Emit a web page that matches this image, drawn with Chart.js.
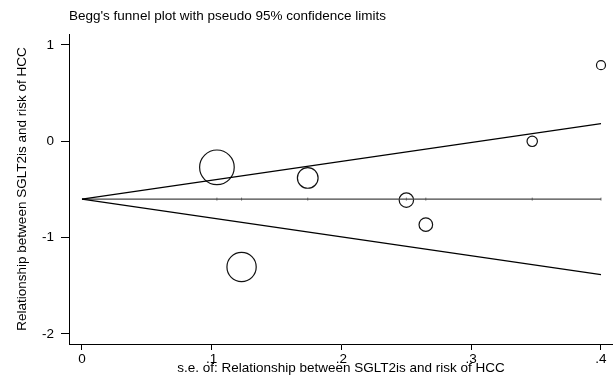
<!DOCTYPE html>
<html lang="en">
<head>
<meta charset="UTF-8" />
<title>Begg's funnel plot</title>
<script src="https://cdn.jsdelivr.net/npm/chart.js"></script>
<style>
  html, body { margin: 0; padding: 0; background: #fff; overflow: hidden; }
  #wrap { position: relative; width: 613px; height: 378px; }
  canvas { display: block; }
</style>
</head>
<body>
<div id="wrap"><canvas id="funnel"></canvas></div>
<script>
// study standard errors and effect estimates (log scale)
const studySE = [0.104, 0.123, 0.174, 0.250, 0.265, 0.347, 0.400];
const studyEffect = [-0.27, -1.305, -0.38, -0.61, -0.865, 0.0, 0.79];

// pooled estimate and pseudo 95% limits, given at se = 0 and se = .4
const limitSE = [0, 0.4];
const pooledLine = [-0.6, -0.6];
const upperLimit = [-0.6, 0.184];
const lowerLimit = [-0.6, -1.384];

const xTicks = [0, 0.1, 0.2, 0.3, 0.4];
const yTicks = [-2, -1, 0, 1];

const FONT = 'Arial, "Liberation Sans", sans-serif';
Chart.defaults.font.family = FONT;
Chart.defaults.font.size = 13.5;
Chart.defaults.color = '#000';

const pairs = (xs, ys) => xs.map((x, i) => ({ x: x, y: ys[i] }));

// marker size grows with study weight (1/se)
const markerRadius = studySE.map(se => 1.8 / se);

const titlePlugin = {
  id: 'leftTitle',
  afterDraw(chart) {
    const ctx = chart.ctx;
    ctx.save();
    ctx.font = '13.5px ' + FONT;
    ctx.fillStyle = '#000';
    ctx.textBaseline = 'middle';
    ctx.fillText("Begg's funnel plot with pseudo 95% confidence limits", 69, 16);
    ctx.restore();
  }
};

new Chart(document.getElementById('funnel'), {
  type: 'scatter',
  data: {
    datasets: [
      {
        label: 'upper limit',
        data: pairs(limitSE, upperLimit),
        showLine: true, borderColor: '#000', borderWidth: 1.2, pointRadius: 0
      },
      {
        label: 'lower limit',
        data: pairs(limitSE, lowerLimit),
        showLine: true, borderColor: '#000', borderWidth: 1.2, pointRadius: 0
      },
      {
        label: 'pooled',
        data: pairs(limitSE, pooledLine),
        showLine: true, borderColor: '#444', borderWidth: 1.2, pointRadius: 0
      },
      {
        label: 'pooled marks',
        data: studySE.map(se => ({ x: se, y: pooledLine[0] })),
        pointStyle: 'line', rotation: 90, pointRadius: 1.5,
        borderColor: '#777', borderWidth: 1
      },
      {
        label: 'studies',
        data: pairs(studySE, studyEffect),
        pointStyle: 'circle',
        pointRadius: markerRadius,
        backgroundColor: 'rgba(0,0,0,0)',
        borderColor: '#111',
        borderWidth: 1.2
      }
    ]
  },
  options: {
    responsive: true,
    maintainAspectRatio: false,
    animation: false,
    layout: { autoPadding: false, padding: { top: 34, left: 0, right: 0, bottom: 0 } },
    plugins: { legend: { display: false }, tooltip: { enabled: false } },
    scales: {
      x: {
        type: 'linear',
        min: -0.01,
        max: 0.40925,
        afterBuildTicks: s => { s.ticks = xTicks.map(v => ({ value: v })); },
        afterFit: s => { s.height = 34; s.paddingLeft = 0; s.paddingRight = 0; },
        ticks: {
          padding: 1,
          autoSkip: false,
          maxRotation: 0,
          callback: v => v === 0 ? '0' : String(v).replace('0.', '.')
        },
        grid: { drawOnChartArea: false, tickLength: 6, tickColor: '#000', tickWidth: 1 },
        border: { color: '#000', width: 1 },
        title: {
          display: true,
          text: 's.e. of: Relationship between SGLT2is and risk of HCC',
          padding: { top: 0, bottom: 2 }
        }
      },
      y: {
        type: 'linear',
        min: -2.104,
        max: 1.114,
        afterBuildTicks: s => { s.ticks = yTicks.map(v => ({ value: v })); },
        afterFit: s => { s.width = 69; s.paddingTop = 0; s.paddingBottom = 0; },
        ticks: { padding: 7, autoSkip: false, callback: v => String(v) },
        grid: { drawOnChartArea: false, tickLength: 8, tickColor: '#000', tickWidth: 1 },
        border: { color: '#000', width: 1 },
        title: {
          display: true,
          text: 'Relationship between SGLT2is and risk of HCC',
          padding: { top: 14, bottom: 0 }
        }
      }
    }
  },
  plugins: [titlePlugin]
});
</script>
</body>
</html>
